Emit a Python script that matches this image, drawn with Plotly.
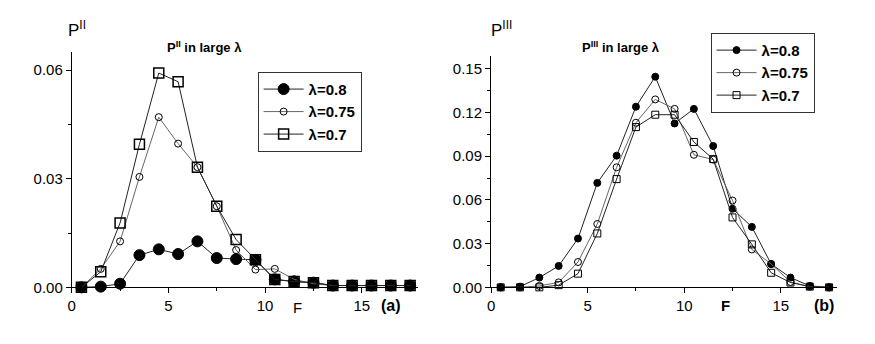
import plotly.graph_objects as go

# Data
F = [0.5, 1.5, 2.5, 3.5, 4.5, 5.5, 6.5, 7.5, 8.5, 9.5, 10.5, 11.5, 12.5, 13.5, 14.5, 15.5, 16.5, 17.5]
labels = ['λ=0.8', 'λ=0.75', 'λ=0.7']

# panel (a): P^II
pa_08 = [0.0, 0.0002, 0.001, 0.0089, 0.0105, 0.0092, 0.0127, 0.0081, 0.0078, 0.0076, 0.0022, 0.0016, 0.0013, 0.0005, 0.0005, 0.0005, 0.0005, 0.0005]
pa_075 = [0.0, 0.0051, 0.0127, 0.0305, 0.047, 0.0397, 0.0332, 0.0224, 0.0103, 0.0049, 0.0051, 0.0022, 0.001, 0.0005, 0.0005, 0.0005, 0.0005, 0.0005]
pa_07 = [0.0, 0.0043, 0.0178, 0.0395, 0.0592, 0.0568, 0.0332, 0.0224, 0.0132, 0.0076, 0.0022, 0.0016, 0.0013, 0.0005, 0.0005, 0.0005, 0.0005, 0.0005]

# panel (b): P^III
pb_08 = [0.0, 0.0005, 0.0067, 0.0147, 0.0335, 0.0717, 0.0904, 0.124, 0.1446, 0.1125, 0.1225, 0.097, 0.054, 0.0415, 0.016, 0.0067, 0.001, 0.0]
pb_075 = [0.0, 0.0, 0.001, 0.0034, 0.0174, 0.0435, 0.0824, 0.113, 0.129, 0.1225, 0.091, 0.0877, 0.0596, 0.026, 0.016, 0.0037, 0.0005, 0.0]
pb_07 = [0.0, 0.0, 0.0, 0.0015, 0.0094, 0.037, 0.0743, 0.110, 0.1185, 0.1185, 0.0998, 0.088, 0.048, 0.0295, 0.010, 0.0033, 0.0005, 0.0]

FONT = 'Liberation Sans, Arial, sans-serif'

fig = go.Figure()

styles_a = [
    dict(symbol='circle', size=11, color='black', line=dict(color='black', width=1)),
    dict(symbol='circle-open', size=7, color='black', line=dict(width=1)),
    dict(symbol='square-open', size=10, color='black', line=dict(width=1.5)),
]
styles_b = [
    dict(symbol='circle', size=7, color='black', line=dict(color='black', width=1)),
    dict(symbol='circle-open', size=7, color='black', line=dict(width=1)),
    dict(symbol='square-open', size=7, color='black', line=dict(width=1)),
]
line_cols = ['#222222', '#666666', '#222222']

for ys, lab, st, lc in zip([pa_08, pa_075, pa_07], labels, styles_a, line_cols):
    fig.add_trace(go.Scatter(x=F, y=ys, mode='lines+markers', name='<b>' + lab + '</b>',
                             line=dict(color=lc, width=1), marker=st,
                             xaxis='x', yaxis='y', legend='legend', cliponaxis=False))

for ys, lab, st, lc in zip([pb_08, pb_075, pb_07], labels, styles_b, line_cols):
    fig.add_trace(go.Scatter(x=F, y=ys, mode='lines+markers', name='<b>' + lab + '</b>',
                             line=dict(color=lc, width=1), marker=st,
                             xaxis='x2', yaxis='y2', legend='legend2', cliponaxis=False))

axis_common = dict(showgrid=False, zeroline=False, showline=True, linecolor='black', linewidth=1,
                   ticks='outside', ticklen=5, tickcolor='black',
                   tickfont=dict(family=FONT, size=15, color='black'))

xa = dict(axis_common, range=[0, 17.9], tickvals=[0, 5, 10, 15],
          minor=dict(dtick=2.5, tick0=0, ticks='outside', ticklen=3, tickcolor='black'))

legend_common = dict(bordercolor='#333333', borderwidth=1, bgcolor='white',
                     font=dict(family=FONT, size=15, color='black'),
                     xanchor='left', yanchor='top', tracegroupgap=0, itemwidth=40)

fig.update_layout(
    width=875, height=344,
    margin=dict(l=0, r=0, t=0, b=0),
    paper_bgcolor='white', plot_bgcolor='white',
    showlegend=True,
    xaxis=dict(xa, domain=[0.0686, 0.466], anchor='y'),
    yaxis=dict(axis_common, domain=[0.1686, 0.869], anchor='x', range=[0, 0.065],
               tickvals=[0, 0.03, 0.06], tickformat='.2f',
               minor=dict(dtick=0.015, tick0=0, ticks='outside', ticklen=3, tickcolor='black')),
    xaxis2=dict(xa, domain=[0.55, 0.947], anchor='y2'),
    yaxis2=dict(axis_common, domain=[0.1686, 0.858], anchor='x2', range=[0, 0.159],
                tickvals=[0, 0.03, 0.06, 0.09, 0.12, 0.15], tickformat='.2f',
                minor=dict(dtick=0.015, tick0=0, ticks='outside', ticklen=3, tickcolor='black')),
    legend=dict(legend_common, x=0.282, y=0.81),
    legend2=dict(legend_common, x=0.802, y=0.926),
)

def note(text, x, y, size=14, bold=False):
    fig.add_annotation(text='<b>' + text + '</b>' if bold else text, x=x, y=y,
                       xref='paper', yref='paper', showarrow=False,
                       xanchor='center', yanchor='middle',
                       font=dict(family=FONT, size=size, color='black'))

W, H = 875, 344
note('P<sup>II</sup>', 65 / W, 1 - 22 / H, size=17)
note('P<sup>II</sup> in large λ', 193 / W, 1 - 40 / H, size=13, bold=True)
note('F', 287 / W, 1 - 307 / H, size=15)
note('(a)', 381 / W, 1 - 305 / H, size=16, bold=True)
note('P<sup>III</sup>', 492 / W, 1 - 22 / H, size=17)
note('P<sup>III</sup> in large λ', 612 / W, 1 - 40 / H, size=13, bold=True)
note('F', 717 / W, 1 - 305 / H, size=15, bold=True)
note('(b)', 816 / W, 1 - 305 / H, size=16, bold=True)

fig.write_html('out.html')
